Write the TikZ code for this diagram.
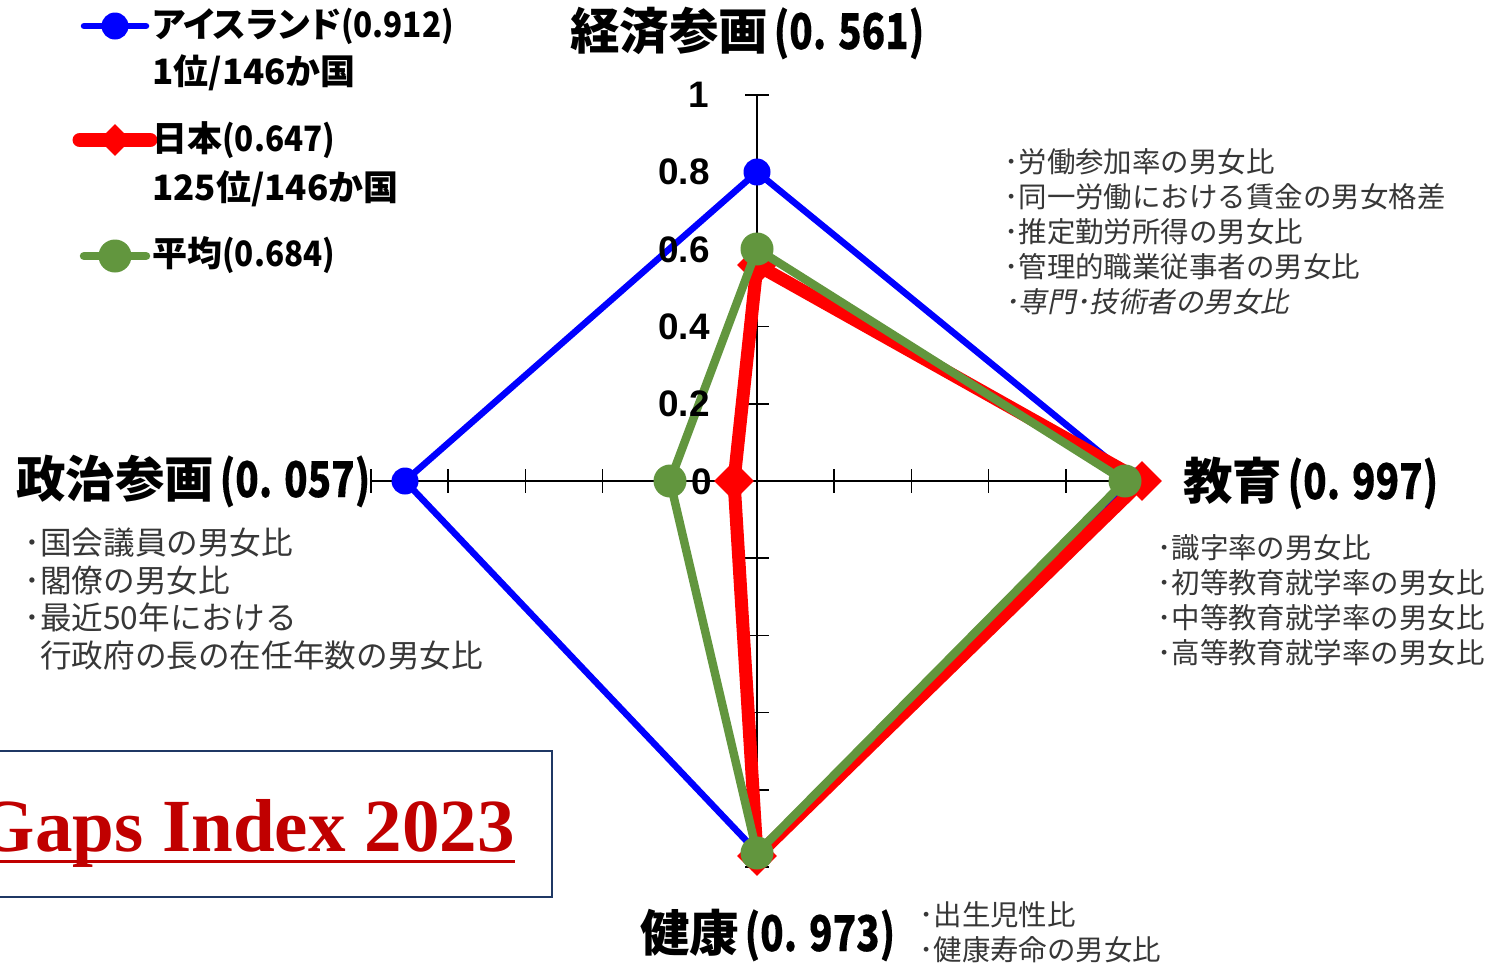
\documentclass[tikz,border=0pt]{standalone}
\usepackage{fontspec}
\usetikzlibrary{shapes.geometric}
\setmainfont{Liberation Sans}
\newfontfamily\jp{Noto Sans CJK JP}
\newfontfamily\jpm{Noto Sans CJK JP}[FakeBold=0.25]
\newfontfamily\jpl{Noto Sans CJK JP}[RawFeature=+palt]
\newfontfamily\jpi{Noto Sans CJK JP}[FakeSlant=0.2]
\newfontfamily\gapsfont{Liberation Serif}
\definecolor{cblue}{RGB}{0,0,255}
\definecolor{cred}{RGB}{255,0,0}
\definecolor{cgreen}{RGB}{98,150,62}
\definecolor{navy}{RGB}{31,56,100}
\definecolor{dred}{RGB}{192,0,0}
\definecolor{txtg}{RGB}{55,55,55}
\newcommand\nrw[1]{\hspace{3pt}\scalebox{0.78}[1]{\jpm #1}}
\newcommand\nrl[1]{\scalebox{0.9}[1]{#1}}
\tikzset{
 axisl/.style={line width=0.9pt, draw=black},
 bluel/.style={draw=cblue, line width=3.7pt},
 redl/.style={draw=cred, line width=7.4pt},
 greenl/.style={draw=cgreen, line width=4.8pt},
 bmark/.style={circle, fill=cblue, inner sep=0pt, minimum size=0.54cm},
 rmark/.style={diamond, aspect=1, fill=cred, inner sep=0pt, minimum size=0.8cm},
 gmark/.style={circle, fill=cgreen, inner sep=0pt, minimum size=0.66cm},
 titletext/.style={anchor=west, inner sep=0pt, font=\jp\bfseries\fontsize{28.2pt}{34pt}\selectfont},
 legtext/.style={anchor=west, inner sep=0pt, font=\jpl\bfseries\fontsize{19.9pt}{24pt}\selectfont},
 listtext/.style={anchor=west, inner sep=0pt, align=left, text=txtg, font=\jp\fontsize{16.2pt}{19.9pt}\selectfont},
 polist/.style={anchor=west, inner sep=0pt, align=left, text=txtg, font=\jp\fontsize{18pt}{21.6pt}\selectfont},
 ticklab/.style={anchor=east, inner sep=0pt, font=\bfseries\fontsize{21pt}{24pt}\selectfont},
 boxst/.style={draw=navy, line width=1.4pt},
}
\begin{document}
\begin{tikzpicture}[x=0.02cm,y=-0.02cm]
\useasboundingbox (0,0) rectangle (1493,965);
\clip (0,0) rectangle (1493,965);
\fill[white] (0,0) rectangle (1493,965);

% axes
\draw[axisl] (757,95) -- (757,867);
\draw[axisl] (371,481) -- (1143,481);
\foreach \k in {-5,-4,-3,-2,-1,1,2,3,4,5}{
  \draw[axisl] ({757+77.2*\k},469) -- ({757+77.2*\k},493);
  \draw[axisl] (745,{481+77.2*\k}) -- (769,{481+77.2*\k});
}

% Iceland
\coordinate (bT) at (757,172);
\coordinate (bR) at (1135,481);
\coordinate (bB) at (757,852);
\coordinate (bL) at (405,481);
\draw[bluel] (bT) -- (bR) -- (bB) -- (bL) -- cycle;
\foreach \p in {bT,bR,bB,bL} \node[bmark] (m\p) at (\p) {};

% Japan
\coordinate (rT) at (757,265);
\coordinate (rR) at (1142,481);
\coordinate (rB) at (757,856);
\coordinate (rL) at (734,481);
\draw[redl] (rT) -- (rR) -- (rB) -- (rL) -- cycle;
\foreach \p in {rT,rR,rB,rL} \node[rmark] (m\p) at (\p) {};

% average
\coordinate (gT) at (757,249);
\coordinate (gR) at (1125,481);
\coordinate (gB) at (757,853);
\coordinate (gL) at (670,481);
\draw[greenl] (gT) -- (gR) -- (gB) -- (gL) -- cycle;
\foreach \p in {gT,gR,gB,gL} \node[gmark] (m\p) at (\p) {};

% tick labels
\node[ticklab] (l10) at (709,95) {1};
\node[ticklab] (l08) at (710,172) {0.8};
\node[ticklab] (l06) at (710,250) {0.6};
\node[ticklab] (l04) at (710,327) {0.4};
\node[ticklab] (l02) at (710,404) {0.2};
\node[ticklab] (l00) at (712,482) {0};

% axis titles
\node[titletext] (tEcon) at (570,33) {経済参画\nrw{(0. 561)}};
\node[titletext] (tPol) at (16,481) {政治参画\nrw{(0. 057)}};
\node[titletext] (tEdu) at (1183,483) {教育\nrw{(0. 997)}};
\node[titletext] (tHea) at (640,935) {健康\nrw{(0. 973)}};

% lists
\node[listtext] (liEcon) at (1004,232) {･労働参加率の男女比\\･同一労働における賃金の男女格差\\･推定勤労所得の男女比\\･管理的職業従事者の男女比\\{\jpi ･専門･技術者の男女比}};
\node[polist] (liPol) at (24,599) {･国会議員の男女比\\･閣僚の男女比\\･最近50年における\\\phantom{･}行政府の長の在任年数の男女比};
\node[listtext] (liEdu) at (1157,600) {･識字率の男女比\\･初等教育就学率の男女比\\･中等教育就学率の男女比\\･高等教育就学率の男女比};
\node[listtext] (liHea) at (919,932) {･出生児性比\\･健康寿命の男女比};

% legend
\coordinate (lb1) at (84,26);
\coordinate (lb2) at (146,26);
\draw[bluel, line cap=round] (lb1) -- (lb2);
\node[bmark] (lbm) at (115,26) {};
\coordinate (lr1) at (80,140);
\coordinate (lr2) at (150,140);
\draw[redl, line width=8.5pt, line cap=round] (lr1) -- (lr2);
\node[rmark, minimum size=0.64cm] (lrm) at (115,140) {};
\coordinate (lg1) at (84,256);
\coordinate (lg2) at (146,256);
\draw[greenl, line cap=round] (lg1) -- (lg2);
\node[gmark] (lgm) at (115,256) {};
\node[legtext] (tIce) at (152,26) {アイスランド\nrl{(0.912)}};
\node[legtext] (tIce2) at (152,73) {1位/146か国};
\node[legtext] (tJpn) at (152,140) {日本\nrl{(0.647)}};
\node[legtext] (tJpn2) at (152,189) {125位/146か国};
\node[legtext] (tAvg) at (152,255) {平均\nrl{(0.684)}};

% title box
\draw[boxst] (-10,751) rectangle (552,897);
\node[anchor=base east, inner sep=0pt, text=dred, font=\gapsfont\bfseries\fontsize{42.7pt}{50pt}\selectfont] (gaps) at (515,851) {Gaps Index 2023};
\draw[dred, line width=1.7pt] ([yshift=-0.2cm]gaps.base west) -- ([yshift=-0.2cm]gaps.base east);
\end{tikzpicture}
\end{document}
